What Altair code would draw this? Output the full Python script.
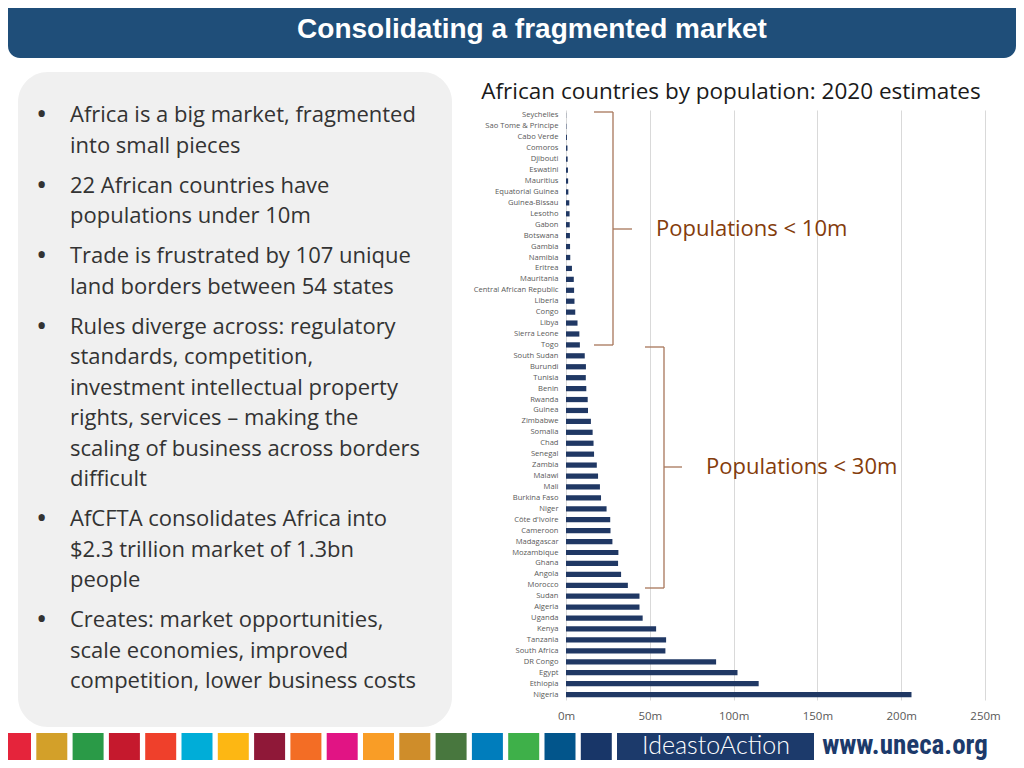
import altair as alt
import pandas as pd

# ---------------- data ----------------
countries = [
    "Seychelles", "Sao Tome & Principe", "Cabo Verde", "Comoros", "Djibouti",
    "Eswatini", "Mauritius", "Equatorial Guinea", "Guinea-Bissau", "Lesotho",
    "Gabon", "Botswana", "Gambia", "Namibia", "Eritrea", "Mauritania",
    "Central African Republic", "Liberia", "Congo", "Libya", "Sierra Leone",
    "Togo", "South Sudan", "Burundi", "Tunisia", "Benin", "Rwanda", "Guinea",
    "Zimbabwe", "Somalia", "Chad", "Senegal", "Zambia", "Malawi", "Mali",
    "Burkina Faso", "Niger", "Côte d'Ivoire", "Cameroon", "Madagascar",
    "Mozambique", "Ghana", "Angola", "Morocco", "Sudan", "Algeria", "Uganda",
    "Kenya", "Tanzania", "South Africa", "DR Congo", "Egypt", "Ethiopia",
    "Nigeria",
]
population_m = [
    0.10, 0.22, 0.56, 0.87, 0.99, 1.16, 1.27, 1.40, 1.97, 2.14,
    2.23, 2.35, 2.42, 2.54, 3.55, 4.65, 4.83, 5.06, 5.52, 6.87,
    7.98, 8.28, 11.19, 11.89, 11.82, 12.12, 12.95, 13.13, 14.86, 15.89,
    16.43, 16.74, 18.38, 19.13, 20.25, 20.90, 24.21, 26.38, 26.55, 27.69,
    31.26, 31.07, 32.87, 36.91, 43.85, 43.85, 45.74, 53.77, 59.73, 59.31,
    89.56, 102.33, 114.96, 206.14,
]
x_ticks = [0, 50, 100, 150, 200, 250]

slide_title = "Consolidating a fragmented market"
chart_title = "African countries by population: 2020 estimates"
brace_labels = ["Populations < 10m", "Populations < 30m"]

bullets = [
    ["Africa is a big market, fragmented", "into small pieces"],
    ["22 African countries have", "populations under 10m"],
    ["Trade is frustrated by 107 unique", "land borders between 54 states"],
    ["Rules diverge across: regulatory", "standards, competition,",
     "investment intellectual property", "rights, services \u2013 making the",
     "scaling of business across borders", "difficult"],
    ["AfCFTA consolidates Africa into", "$2.3 trillion market of 1.3bn",
     "people"],
    ["Creates: market opportunities,", "scale economies, improved",
     "competition, lower business costs"],
]

sdg_colors = [
    "#E5243B", "#D3A029", "#2A9A47", "#C5192D", "#EF402B", "#00ADD8",
    "#FDB713", "#8F1838", "#F36D25", "#E11484", "#F99D26", "#CF8D2A",
    "#48773E", "#007DBC", "#3EB049", "#02558B", "#183668",
]
footer_logo = "IdeastoAction"
footer_url = "www.uneca.org"

# ---------------- layout ----------------
PAGE = 8
SVG_W, SVG_H = 1008, 752
PLOT_X0, PLOT_Y0 = 566, 110
PLOT_W, PLOT_H = 419, 590
PAD = {
    "left": PLOT_X0 - PAGE,
    "top": PLOT_Y0 - PAGE,
    "right": SVG_W - (PLOT_X0 - PAGE) - PLOT_W,
    "bottom": SVG_H - (PLOT_Y0 - PAGE) - PLOT_H,
}

BODY_FONT = "Open Sans, Lato, sans-serif"
NAVY = "#203864"
BROWN_TEXT = "#843C0C"
BROWN_LINE = "#A8765A"


def X(px):
    return px - PLOT_X0


def Y(py):
    return py - PLOT_Y0


one = alt.Data(values=[{}])


def rect(x1, y1, x2, y2, color, radius=0):
    return alt.Chart(one).mark_rect(color=color, cornerRadius=radius).encode(
        x=alt.value(X(x1)), x2=alt.value(X(x2)),
        y=alt.value(Y(y1)), y2=alt.value(Y(y2)))


def rule(x1, y1, x2, y2, color=BROWN_LINE, w=1.3):
    return alt.Chart(one).mark_rule(color=color, strokeWidth=w).encode(
        x=alt.value(X(x1)), x2=alt.value(X(x2)),
        y=alt.value(Y(y1)), y2=alt.value(Y(y2)))


def label(s, x, y, size, color, font=BODY_FONT, weight="normal", align="left"):
    return alt.Chart(one).mark_text(
        text=s, font=font, fontSize=size, color=color, fontWeight=weight,
        align=align, baseline="middle").encode(
        x=alt.value(X(x)), y=alt.value(Y(y)))


layers = []

# header
layers.append(rect(8, -20, 1016, 58, "#1F4E79", radius=12))
layers.append(label(slide_title, 532, 30, 28, "white",
                    font="Liberation Sans, Arial, sans-serif", weight="bold",
                    align="center"))

# left panel
layers.append(rect(18, 72, 452, 727, "#F0F0F0", radius=30))
y = 115.0
for b in bullets:
    layers.append(label("\u2022", 36, y, 30, "#333333"))
    for line in b:
        layers.append(label(line, 70, y, 22, "#333333"))
        y += 30.5
    y += 9.5

# footer
for i, c in enumerate(sdg_colors):
    x1 = i * 36.3
    layers.append(rect(x1, 733, x1 + 31, 775, c))
layers.append(rect(617, 733, 814, 775, "#1C3A6B"))
layers.append(label(footer_logo, 716, 746, 25, "white",
                    font="Lato, Open Sans, sans-serif", weight=300,
                    align="center"))
layers.append(label(footer_url, 905, 746, 27, "#1C3A6B",
                    font="Liberation Sans Narrow, Roboto Condensed, Roboto, sans-serif",
                    weight="bold", align="center"))

# chart title
layers.append(label(chart_title, 731, 92, 22.5, "#1A1A1A", align="center"))

# bars
df = pd.DataFrame({"country": countries, "population": population_m})
bars = alt.Chart(df).mark_bar(color=NAVY).encode(
    x=alt.X("population:Q",
            scale=alt.Scale(domain=[0, 250], nice=False),
            axis=alt.Axis(values=x_ticks, labelExpr="datum.value + 'm'",
                          title=None, domain=False, ticks=False, tickSize=0,
                          grid=True, gridColor="#D9D9D9", gridWidth=1,
                          labelFont=BODY_FONT, labelFontSize=11.5,
                          labelColor="#595959", labelPadding=10,
                          labelFlush=False)),
    y=alt.Y("country:N", sort=countries,
            scale=alt.Scale(paddingInner=0.52, paddingOuter=0.26),
            axis=alt.Axis(title=None, domain=False, ticks=False, tickSize=0,
                          labelFont=BODY_FONT, labelFontSize=7.6,
                          labelColor="#595959", labelPadding=8,
                          labelLimit=200)),
)
layers.append(bars)

# braces
for (top, bot, xv, xm, xl, ym) in [(112, 345, 613, 632, 594, 229),
                                   (347, 588, 664, 682, 645, 467)]:
    layers.append(rule(xl, top, xv, top))
    layers.append(rule(xv, top, xv, bot))
    layers.append(rule(xv, ym, xm, ym))
    layers.append(rule(xl, bot, xv, bot))

layers.append(label(brace_labels[0], 656, 229, 22, BROWN_TEXT))
layers.append(label(brace_labels[1], 706, 467, 22, BROWN_TEXT))

chart = alt.layer(*layers).properties(
    width=PLOT_W, height=PLOT_H,
    autosize=alt.AutoSizeParams(type="none"),
    padding=PAD,
    background="white",
).configure_view(strokeWidth=0)

chart.save("out.html", embed_options={"renderer": "svg", "actions": False})
